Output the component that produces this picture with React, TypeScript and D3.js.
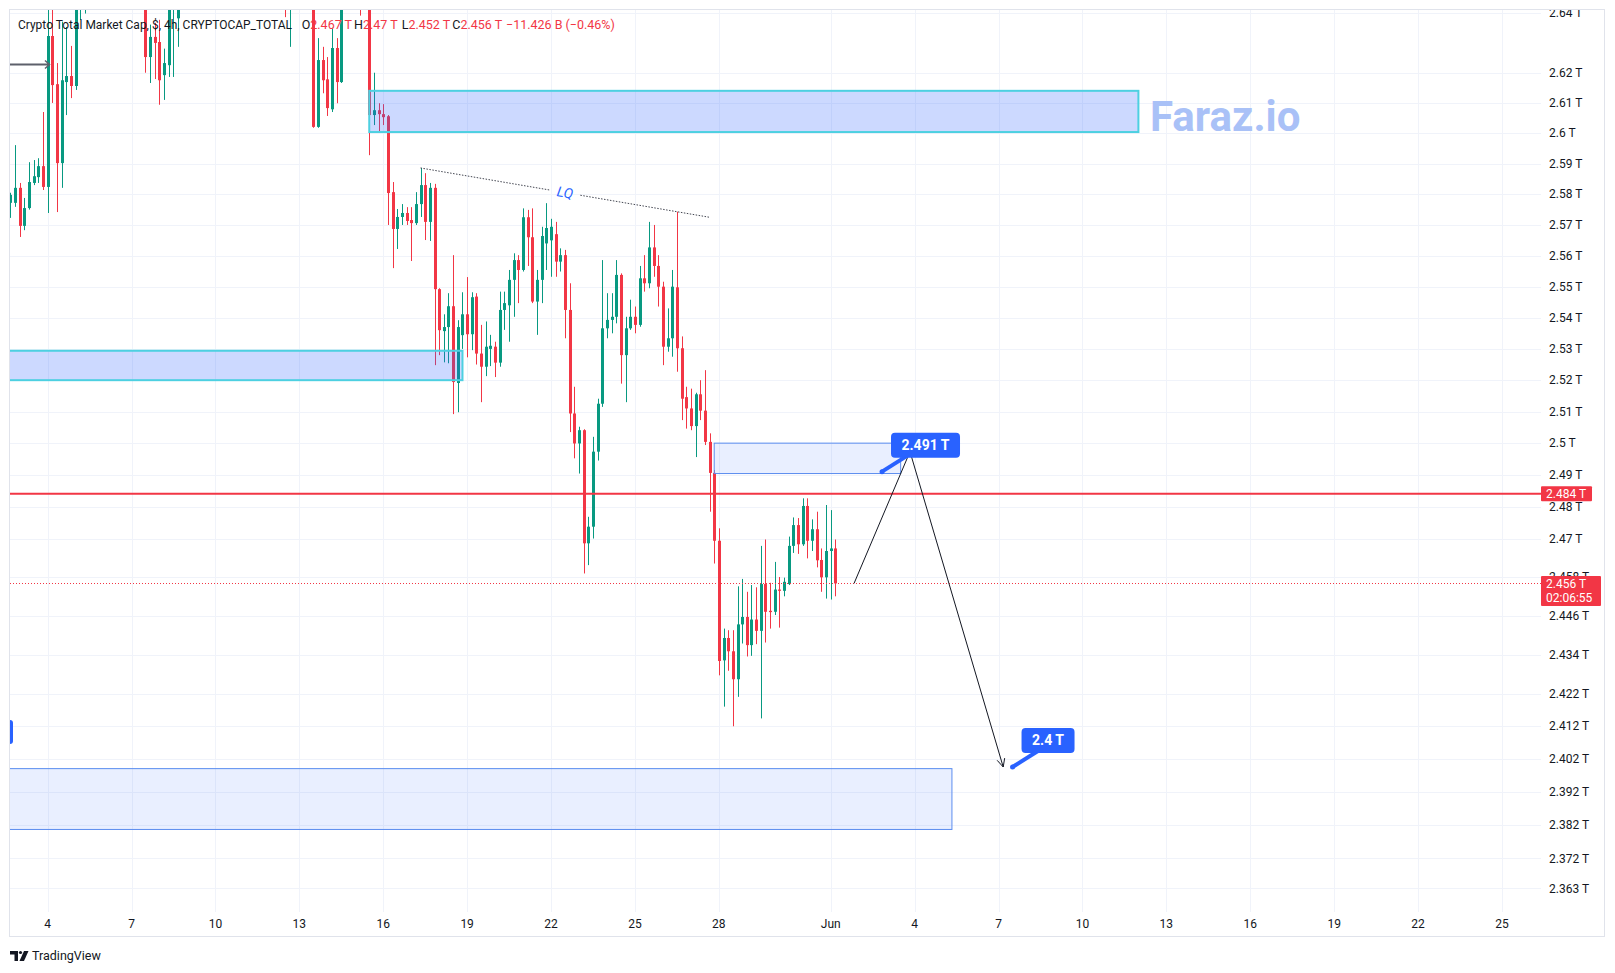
import React from 'react';
import * as d3 from 'd3';

// 4h candles of CRYPTOCAP:TOTAL, first bar 2 May 16:00 UTC, values in trillions
const START = Date.UTC(2024, 4, 2, 16);
const BAR_MS = 4 * 3600 * 1000;

// [open, high, low, close]
const candles: [number, number, number, number][] = [
  [2.5772, 2.5805, 2.5723, 2.5798], [2.5772, 2.5961, 2.5759, 2.5821], [2.5821, 2.5837, 2.5661, 2.5697],
  [2.5697, 2.5788, 2.5683, 2.5755], [2.5755, 2.5905, 2.5750, 2.5840], [2.5837, 2.5912, 2.5830, 2.5859],
  [2.5856, 2.5918, 2.5837, 2.5892], [2.5892, 2.6070, 2.5814, 2.5824], [2.5824, 2.6450, 2.5739, 2.6322],
  [2.6322, 2.6480, 2.6100, 2.6159], [2.6162, 2.6232, 2.5742, 2.5902], [2.5902, 2.6370, 2.5821, 2.6175],
  [2.6169, 2.6352, 2.6060, 2.6189], [2.6189, 2.6289, 2.6116, 2.6156], [2.6156, 2.6600, 2.6143, 2.6520],
  [2.6520, 2.6620, 2.6376, 2.6570], [2.6570, 2.6680, 2.6397, 2.6640], [2.6640, 2.6720, 2.6550, 2.6680],
  [2.6680, 2.6800, 2.6600, 2.6750], [2.6750, 2.6830, 2.6640, 2.6700], [2.6700, 2.6780, 2.6580, 2.6620],
  [2.6620, 2.6710, 2.6520, 2.6670], [2.6670, 2.6900, 2.6630, 2.6840], [2.6840, 2.6950, 2.6720, 2.6780],
  [2.6780, 2.6860, 2.6600, 2.6680], [2.6680, 2.6770, 2.6550, 2.6720], [2.6720, 2.6810, 2.6600, 2.6640],
  [2.6640, 2.6700, 2.6500, 2.6560], [2.6560, 2.6620, 2.6450, 2.6520], [2.6520, 2.6560, 2.6200, 2.6252],
  [2.6252, 2.6360, 2.6166, 2.6319], [2.6319, 2.6366, 2.6179, 2.6299], [2.6302, 2.6376, 2.6094, 2.6175],
  [2.6192, 2.6280, 2.6110, 2.6232], [2.6225, 2.6520, 2.6186, 2.6480], [2.6420, 2.6560, 2.6186, 2.6500],
  [2.6381, 2.6620, 2.6286, 2.6560], [2.6560, 2.6700, 2.6500, 2.6650], [2.6650, 2.6780, 2.6590, 2.6720],
  [2.6720, 2.6850, 2.6660, 2.6800], [2.6800, 2.6900, 2.6700, 2.6750], [2.6750, 2.6820, 2.6620, 2.6680],
  [2.6680, 2.6760, 2.6580, 2.6720], [2.6720, 2.6880, 2.6690, 2.6840], [2.6840, 2.6960, 2.6780, 2.6900],
  [2.6900, 2.7020, 2.6820, 2.6870], [2.6870, 2.6940, 2.6760, 2.6800], [2.6800, 2.6860, 2.6690, 2.6740],
  [2.6740, 2.6800, 2.6620, 2.6660], [2.6660, 2.6740, 2.6550, 2.6700], [2.6700, 2.6790, 2.6640, 2.6760],
  [2.6760, 2.6830, 2.6680, 2.6720], [2.6720, 2.6770, 2.6600, 2.6640], [2.6640, 2.6720, 2.6560, 2.6690],
  [2.6690, 2.6760, 2.6620, 2.6710], [2.6710, 2.6780, 2.6600, 2.6650], [2.6650, 2.6700, 2.6520, 2.6580],
  [2.6580, 2.6680, 2.6500, 2.6640], [2.6640, 2.6700, 2.6480, 2.6620], [2.6620, 2.6700, 2.6385, 2.6480],
  [2.6480, 2.6640, 2.6286, 2.6600], [2.6600, 2.6720, 2.6540, 2.6680], [2.6680, 2.6750, 2.6580, 2.6620],
  [2.6620, 2.6700, 2.6520, 2.6660], [2.6660, 2.6720, 2.6560, 2.6610], [2.6610, 2.6680, 2.6018, 2.6021],
  [2.6021, 2.6315, 2.6018, 2.6242], [2.6242, 2.6286, 2.6132, 2.6175], [2.6178, 2.6252, 2.6057, 2.6083],
  [2.6079, 2.6349, 2.6070, 2.6282], [2.6282, 2.6315, 2.6099, 2.6169], [2.6169, 2.6550, 2.6166, 2.6480],
  [2.6480, 2.6620, 2.6430, 2.6580], [2.6580, 2.6680, 2.6520, 2.6640], [2.6640, 2.6700, 2.6540, 2.6600],
  [2.6600, 2.6650, 2.6390, 2.6480], [2.6480, 2.6600, 2.6430, 2.6520], [2.6520, 2.6570, 2.5928, 2.6060],
  [2.6060, 2.6200, 2.6027, 2.6076], [2.6076, 2.6099, 2.6007, 2.6063], [2.6063, 2.6096, 2.6027, 2.6053],
  [2.6056, 2.6060, 2.5700, 2.5804], [2.5807, 2.5840, 2.5560, 2.5687], [2.5687, 2.5752, 2.5622, 2.5726],
  [2.5726, 2.5768, 2.5700, 2.5739], [2.5739, 2.5758, 2.5700, 2.5713], [2.5716, 2.5758, 2.5583, 2.5706],
  [2.5706, 2.5807, 2.5700, 2.5768], [2.5768, 2.5886, 2.5726, 2.5830], [2.5830, 2.5869, 2.5651, 2.5710],
  [2.5710, 2.5837, 2.5648, 2.5821], [2.5821, 2.5834, 2.5248, 2.5492], [2.5492, 2.5495, 2.5280, 2.5360],
  [2.5357, 2.5411, 2.5257, 2.5370], [2.5370, 2.5479, 2.5254, 2.5437], [2.5437, 2.5602, 2.5092, 2.5194],
  [2.5191, 2.5392, 2.5098, 2.5370], [2.5344, 2.5482, 2.5300, 2.5411], [2.5411, 2.5531, 2.5273, 2.5347],
  [2.5347, 2.5482, 2.5296, 2.5466], [2.5468, 2.5479, 2.5250, 2.5285], [2.5285, 2.5377, 2.5130, 2.5243],
  [2.5243, 2.5388, 2.5213, 2.5307], [2.5300, 2.5345, 2.5245, 2.5310], [2.5307, 2.5323, 2.5210, 2.5256],
  [2.5256, 2.5484, 2.5243, 2.5425], [2.5425, 2.5484, 2.5361, 2.5447], [2.5440, 2.5554, 2.5323, 2.5522],
  [2.5522, 2.5608, 2.5403, 2.5586], [2.5586, 2.5602, 2.5447, 2.5554], [2.5554, 2.5754, 2.5549, 2.5725],
  [2.5725, 2.5749, 2.5567, 2.5660], [2.5660, 2.5754, 2.5447, 2.5452], [2.5452, 2.5554, 2.5345, 2.5522],
  [2.5522, 2.5694, 2.5447, 2.5664], [2.5640, 2.5771, 2.5554, 2.5690], [2.5650, 2.5720, 2.5532, 2.5694],
  [2.5670, 2.5710, 2.5532, 2.5581], [2.5581, 2.5624, 2.5549, 2.5602], [2.5602, 2.5619, 2.5334, 2.5425],
  [2.5425, 2.5511, 2.5035, 2.5094], [2.5094, 2.5179, 2.4952, 2.4999], [2.4999, 2.5052, 2.4904, 2.5041],
  [2.5041, 2.5044, 2.4591, 2.4685], [2.4685, 2.4768, 2.4617, 2.4737], [2.4737, 2.5020, 2.4700, 2.4973],
  [2.4973, 2.5141, 2.4945, 2.5125], [2.5125, 2.5586, 2.5115, 2.5366], [2.5366, 2.5479, 2.5334, 2.5393],
  [2.5393, 2.5479, 2.5350, 2.5403], [2.5403, 2.5586, 2.5382, 2.5538], [2.5538, 2.5543, 2.5189, 2.5280],
  [2.5280, 2.5403, 2.5130, 2.5366], [2.5366, 2.5458, 2.5361, 2.5403], [2.5403, 2.5436, 2.5350, 2.5377],
  [2.5377, 2.5567, 2.5371, 2.5527], [2.5527, 2.5602, 2.5484, 2.5511], [2.5511, 2.5710, 2.5495, 2.5627],
  [2.5627, 2.5700, 2.5532, 2.5567], [2.5567, 2.5602, 2.5436, 2.5500], [2.5500, 2.5516, 2.5248, 2.5307],
  [2.5307, 2.5430, 2.5291, 2.5334], [2.5334, 2.5554, 2.5275, 2.5500], [2.5498, 2.5743, 2.5227, 2.5302],
  [2.5302, 2.5340, 2.5073, 2.5141], [2.5146, 2.5179, 2.5046, 2.5110], [2.5110, 2.5173, 2.5041, 2.5054],
  [2.5054, 2.5160, 2.4956, 2.5155], [2.5155, 2.5200, 2.5073, 2.5103], [2.5103, 2.5232, 2.4994, 2.5004],
  [2.5004, 2.5031, 2.4784, 2.4906], [2.4906, 2.4915, 2.4622, 2.4693], [2.4693, 2.4732, 2.4276, 2.4320],
  [2.4322, 2.4420, 2.4180, 2.4391], [2.4391, 2.4415, 2.4290, 2.4350], [2.4350, 2.4415, 2.4120, 2.4264],
  [2.4264, 2.4551, 2.4210, 2.4433], [2.4433, 2.4574, 2.4374, 2.4456], [2.4456, 2.4534, 2.4334, 2.4369],
  [2.4369, 2.4555, 2.4336, 2.4448], [2.4448, 2.4548, 2.4372, 2.4413], [2.4413, 2.4677, 2.4144, 2.4558],
  [2.4558, 2.4697, 2.4377, 2.4472], [2.4475, 2.4562, 2.4420, 2.4471], [2.4472, 2.4627, 2.4462, 2.4541],
  [2.4541, 2.4580, 2.4423, 2.4537], [2.4537, 2.4578, 2.4520, 2.4565], [2.4558, 2.4706, 2.4555, 2.4677],
  [2.4677, 2.4766, 2.4655, 2.4742], [2.4742, 2.4764, 2.4652, 2.4682], [2.4682, 2.4826, 2.4677, 2.4802],
  [2.4802, 2.4826, 2.4638, 2.4693], [2.4693, 2.4760, 2.4661, 2.4729], [2.4729, 2.4784, 2.4610, 2.4632],
  [2.4633, 2.4669, 2.4534, 2.4579], [2.4579, 2.4805, 2.4513, 2.4661], [2.4661, 2.4789, 2.4510, 2.4669],
  [2.4669, 2.4697, 2.4520, 2.4560],
];

const priceTicks = [2.64, 2.62, 2.61, 2.6, 2.59, 2.58, 2.57, 2.56, 2.55, 2.54, 2.53, 2.52, 2.51, 2.5, 2.49,
  2.48, 2.47, 2.458, 2.446, 2.434, 2.422, 2.412, 2.402, 2.392, 2.382, 2.372, 2.363];

const dateTicks = [
  Date.UTC(2024, 4, 4), Date.UTC(2024, 4, 7), Date.UTC(2024, 4, 10), Date.UTC(2024, 4, 13),
  Date.UTC(2024, 4, 16), Date.UTC(2024, 4, 19), Date.UTC(2024, 4, 22), Date.UTC(2024, 4, 25),
  Date.UTC(2024, 4, 28), Date.UTC(2024, 5, 1), Date.UTC(2024, 5, 4), Date.UTC(2024, 5, 7),
  Date.UTC(2024, 5, 10), Date.UTC(2024, 5, 13), Date.UTC(2024, 5, 16), Date.UTC(2024, 5, 19),
  Date.UTC(2024, 5, 22), Date.UTC(2024, 5, 25),
];
const dateTickLabels = ['4', '7', '10', '13', '16', '19', '22', '25', '28', 'Jun', '4', '7', '10', '13', '16', '19', '22', '25'];

// drawn zones
const zones: { t0: number; t1: number; lo: number; hi: number; strong: boolean }[] = [
  { t0: Date.UTC(2024, 4, 15, 12), t1: Date.UTC(2024, 5, 12), lo: 2.6004, hi: 2.614, strong: true },
  { t0: Date.UTC(2024, 3, 28), t1: Date.UTC(2024, 4, 18, 20), lo: 2.52, hi: 2.5294, strong: true },
  { t0: Date.UTC(2024, 4, 27, 20), t1: Date.UTC(2024, 5, 3, 12), lo: 2.4904, hi: 2.5, strong: false },
  { t0: Date.UTC(2024, 3, 28), t1: Date.UTC(2024, 5, 5, 8), lo: 2.3807, hi: 2.3991, strong: false },
];

const keyLevel = 2.484;
const lastPrice = 2.456;
const lqLine: [number, number][] = [[Date.UTC(2024, 4, 17, 8), 2.5886], [Date.UTC(2024, 4, 27, 16), 2.5725]];
const pathPoints: [number, number][] = [
  [Date.UTC(2024, 5, 1, 20), 2.456], [Date.UTC(2024, 5, 3, 20), 2.4973], [Date.UTC(2024, 5, 7, 4), 2.3996],
];
const callouts = [
  { t: Date.UTC(2024, 5, 2, 20), v: 2.491, text: '2.491 T', w: 69 },
  { t: Date.UTC(2024, 5, 7, 12), v: 2.3996, text: '2.4 T', w: 53 },
];

const legendTitle = 'Crypto Total Market Cap, $, 4h, CRYPTOCAP_TOTAL';
const legendValues = [['O', '2.467 T'], ['H', '2.47 T'], ['L', '2.452 T'], ['C', '2.456 T']];
const legendChange = '\u221211.426 B (\u22120.46%)';

const UP = '#089981';
const DOWN = '#f23645';
const TEXT = '#131722';
const GRID = '#f0f3fa';
const FONT = 'Roboto, "Liberation Sans", sans-serif';

const PL = 10, PR = 1541, PT = 10, PB = 908;

function fmt(v: number) {
  return String(+v.toFixed(3));
}

export default function App() {
  const x = d3.scaleUtc().domain([Date.UTC(2024, 4, 4), Date.UTC(2024, 5, 25)]).range([47.6, 1502]);
  const y = d3.scaleLog().domain([2.35715, 2.64088]).range([PB, PT]);

  const lq0 = [x(lqLine[0][0]), y(lqLine[0][1])];
  const lq1 = [x(lqLine[1][0]), y(lqLine[1][1])];
  const lqAt = (f: number) => [lq0[0] + (lq1[0] - lq0[0]) * f, lq0[1] + (lq1[1] - lq0[1]) * f];
  const gapA = lqAt(0.45), gapB = lqAt(0.553), lqMid = lqAt(0.5);

  const pts = pathPoints.map(([t, v]) => [x(t), y(v)] as [number, number]);
  const line = d3.line();
  const [ax, ay] = pts[pts.length - 1];
  const [bx, by] = pts[pts.length - 2];
  const ang = Math.atan2(ay - by, ax - bx);
  const head = [ang + Math.PI - 0.45, ang + Math.PI + 0.45].map(a => [ax + 9 * Math.cos(a), ay + 9 * Math.sin(a)]);

  const legendX = [301.7, 354, 401.7, 452.3];

  return (
    <svg width={1615} height={973} style={{ position: 'absolute', left: 0, top: 0, background: '#fff' }} fontFamily={FONT}>
      <defs>
        <clipPath id="plot"><rect x={PL} y={PT} width={PR - PL} height={PB - PT} /></clipPath>
        <clipPath id="axis"><rect x={PR} y={PT} width={64} height={PB - PT} /></clipPath>
      </defs>
      <rect x={0} y={0} width={1615} height={973} fill="#fff" />
      <rect x={PL - 0.5} y={PT - 0.5} width={1605 - PL} height={937 - PT} fill="none" stroke="#e0e3eb" />

      {/* grid */}
      <g stroke={GRID} strokeWidth={1}>
        {priceTicks.map(v => (
          <line key={v} x1={PL} x2={PR} y1={Math.round(y(v)) + 0.5} y2={Math.round(y(v)) + 0.5} />
        ))}
        {dateTicks.map(t => (
          <line key={t} x1={Math.round(x(t)) + 0.5} x2={Math.round(x(t)) + 0.5} y1={PT} y2={PB + 4} />
        ))}
      </g>

      {/* candles */}
      <g clipPath="url(#plot)">
        {candles.map(([o, h, l, c], i) => {
          const cx = Math.round(x(START + i * BAR_MS));
          const col = c >= o ? UP : DOWN;
          const yTop = y(Math.max(o, c));
          const yBot = y(Math.min(o, c));
          return (
            <g key={i}>
              <rect x={cx} y={y(h)} width={1} height={y(l) - y(h)} fill={col} />
              <rect x={cx - 1} y={yTop} width={3} height={Math.max(1, yBot - yTop)} fill={col} />
            </g>
          );
        })}
      </g>

      {/* drawings */}
      <g clipPath="url(#plot)">
        {zones.map((z, i) => (
          <rect key={i} x={x(z.t0)} y={y(z.hi)} width={x(z.t1) - x(z.t0)} height={y(z.lo) - y(z.hi)}
            fill={z.strong ? 'rgba(41,98,255,0.24)' : 'rgba(41,98,255,0.1)'}
            stroke={z.strong ? '#4dd0e1' : '#5b8def'} strokeWidth={z.strong ? 2 : 1} />
        ))}
        <line x1={PL} x2={PR} y1={y(keyLevel)} y2={y(keyLevel)} stroke={DOWN} strokeWidth={2} />
        <line x1={PL} x2={PR} y1={Math.round(y(lastPrice)) + 0.5} y2={Math.round(y(lastPrice)) + 0.5}
          stroke={DOWN} strokeWidth={1} strokeDasharray="1 2" />
        <line x1={lq0[0]} y1={lq0[1]} x2={gapA[0]} y2={gapA[1]} stroke="#434651" strokeDasharray="1.5 1.5" />
        <line x1={gapB[0]} y1={gapB[1]} x2={lq1[0]} y2={lq1[1]} stroke="#434651" strokeDasharray="1.5 1.5" />
        <text x={lqMid[0]} y={lqMid[1]} dy="0.35em" textAnchor="middle" fontSize={14} fontStyle="italic" fill="#2962ff"
          transform={`rotate(${(Math.atan2(lq1[1] - lq0[1], lq1[0] - lq0[0]) * 180) / Math.PI},${lqMid[0]},${lqMid[1]})`}>LQ</text>
        <path d={line(pts) || ''} fill="none" stroke={TEXT} strokeWidth={1} />
        <path d={`M${head[0][0]},${head[0][1]}L${ax},${ay}L${head[1][0]},${head[1][1]}`} fill="none" stroke={TEXT} strokeWidth={1} />
        {callouts.map((c, i) => {
          const px = x(c.t), py = y(c.v);
          const bx0 = px + 9, by0 = py - 39;
          return (
            <g key={i}>
              <line x1={px} y1={py} x2={bx0 + 18} y2={by0 + 22} stroke="#2962ff" strokeWidth={4} />
              <circle cx={px} cy={py} r={2.5} fill="#2962ff" />
              <rect x={bx0} y={by0} width={c.w} height={25} rx={4} fill="#2962ff" />
              <text x={bx0 + c.w / 2} y={by0 + 12.5} dy="0.35em" textAnchor="middle" fill="#fff" fontSize={14} fontWeight="bold">{c.text}</text>
            </g>
          );
        })}
        <rect x={6} y={720} width={7} height={24} rx={3} fill="#2962ff" />
        <line x1={PL} x2={48} y1={64.5} y2={64.5} stroke="#5d606b" strokeWidth={2} />
        <path d="M45,60.5L49.5,64.5L45,68.5" fill="none" stroke="#5d606b" strokeWidth={1.5} />
        <text x={1150} y={131} fontSize={42} fontWeight="bold" fill="#a9c1f7">Faraz.io</text>
      </g>

      {/* legend */}
      <g fontSize={12.5} fill={TEXT}>
        <text x={18} y={29} textLength={274} lengthAdjust="spacingAndGlyphs">{legendTitle}</text>
        {legendValues.map(([k, v], i) => (
          <text key={k} x={legendX[i]} y={29}>{k}<tspan fill={DOWN}>{v}</tspan></text>
        ))}
        <text x={506} y={29} fill={DOWN}>{legendChange}</text>
      </g>

      {/* price axis */}
      <g clipPath="url(#axis)" fontSize={12} fill={TEXT}>
        {priceTicks.map(v => (
          <text key={v} x={1549} y={y(v)} dy="0.35em">{fmt(v)} T</text>
        ))}
        <rect x={PR} y={y(keyLevel) - 7.5} width={51} height={15} rx={1} fill={DOWN} />
        <text x={1546} y={y(keyLevel)} dy="0.35em" fill="#fff">{fmt(keyLevel)} T</text>
        <rect x={PR} y={y(lastPrice) - 7.5} width={60} height={30} rx={1} fill={DOWN} />
        <text x={1546} y={y(lastPrice)} dy="0.35em" fill="#fff">{fmt(lastPrice)} T</text>
        <text x={1546} y={y(lastPrice) + 14} dy="0.35em" fill="#fff">02:06:55</text>
      </g>

      {/* time axis */}
      <g fontSize={12} fill={TEXT} textAnchor="middle">
        {dateTicks.map((t, i) => (
          <text key={t} x={x(t)} y={924} dy="0.35em">{dateTickLabels[i]}</text>
        ))}
      </g>

      {/* footer logo */}
      <g fill={TEXT}>
        <path d="M10,951h8v10h-3.5v-6.5H10z" />
        <circle cx={20.5} cy={952.5} r={1.6} />
        <path d="M24,951h4.5l-4.5,10h-4.5z" />
        <text x={32} y={956} dy="0.35em" fontSize={12.5}>TradingView</text>
      </g>
    </svg>
  );
}
